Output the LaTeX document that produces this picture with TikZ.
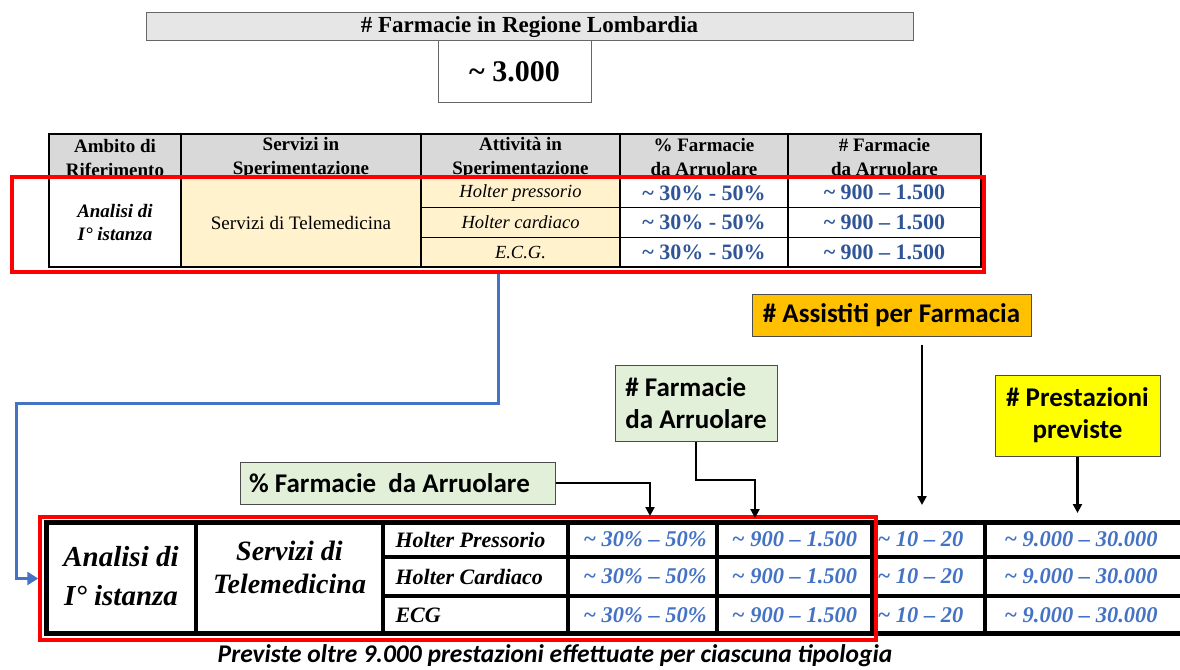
\documentclass[tikz,border=0pt]{standalone}
\usepackage{fontspec}
\setmainfont{Liberation Serif}
\newfontfamily\calibri{Carlito}
\usetikzlibrary{arrows.meta}

\definecolor{grigiotit}{HTML}{E7E6E6}
\definecolor{grigiotab}{HTML}{D9D9D9}
\definecolor{giallino}{HTML}{FFF2CC}
\definecolor{bluscuro}{HTML}{2F5597}
\definecolor{bluchiaro}{HTML}{4472C4}
\definecolor{arancio}{HTML}{FFC000}
\definecolor{verdino}{HTML}{E2F0D9}
\definecolor{giallo}{HTML}{FFFF00}
\definecolor{rosso}{HTML}{FF0000}

\tikzset{
  area/.style n args={4}{at={({(#1+#3)/2},{(#2+#4)/2})},
    minimum width={#3-#1}, minimum height={#4-#2}},
  cella/.style={draw=black, line width=1.2pt, inner sep=0pt, align=center},
  testata/.style={cella, fill=grigiotab, font=\bfseries\fontsize{19}{24}\selectfont},
  cifra/.style={cella, text=bluscuro, font=\bfseries\fontsize{22}{26}\selectfont},
  riquadro/.style={draw=rosso, line width=3.5pt, inner sep=0pt},
  etichetta/.style={draw=black!70, line width=1pt, inner sep=0pt, align=center,
    font=\calibri\bfseries\fontsize{27}{32}\selectfont},
  freccia/.style={line width=2.3pt, -{Triangle[length=9pt,width=9pt]}},
  valore/.style={text=bluchiaro, font=\bfseries\itshape\fontsize{22.5}{26}\selectfont},
  voce/.style={font=\bfseries\itshape\fontsize{22}{26}\selectfont},
}

\begin{document}
\begin{tikzpicture}[x=1pt, y=-1pt]
        \fill[white] (0,0) rectangle (1180,669);
        \useasboundingbox (0,0) rectangle (1180,669);

        % Paso 1: Titolo e numero totale di farmacie
        \node[draw=black!60, line width=1pt, fill=grigiotit, inner sep=0pt,
              area={146}{13}{913}{41}, font=\bfseries\fontsize{23}{26}\selectfont]
              (titolo) {\# Farmacie in Regione Lombardia};
        \node[draw=black!60, line width=1pt, fill=white, inner sep=0pt,
              area={438}{41}{591}{102}, font=\bfseries\fontsize{30}{34}\selectfont]
              (totale) {\textasciitilde{} 3.000};

        % Paso 2: Intestazione della tabella superiore
        \node[testata, area={49}{131}{181}{178}, yshift=-3pt] (int1) {Ambito di\\Riferimento};
        \node[testata, area={181}{131}{421}{178}, yshift=-3pt] (int2) {Servizi in\\Sperimentazione};
        \node[testata, area={421}{131}{620}{178}, yshift=-3pt] (int3) {Attività in\\Sperimentazione};
        \node[testata, area={620}{131}{788}{178}, yshift=-3pt] (int4) {\% Farmacie\\da Arruolare};
        \node[testata, area={788}{131}{981}{178}, yshift=-3pt] (int5) {\# Farmacie\\da Arruolare};

        % Paso 3: Righe della tabella superiore
        \node[cella, fill=white, area={49}{178}{181}{267},
              font=\bfseries\itshape\fontsize{19}{23}\selectfont] (ambito) {Analisi di\\I° istanza};
        \node[cella, fill=giallino, area={181}{178}{421}{267},
              font=\fontsize{19}{23}\selectfont] (servizi) {Servizi di Telemedicina};
        \foreach \att [count=\i, evaluate=\i as \ya using 178+29.67*(\i-1),
                       evaluate=\i as \yb using 178+29.67*\i]
                 in {Holter pressorio, Holter cardiaco, E.C.G.} {
          \node[cella, fill=giallino, area={421}{\ya}{620}{\yb},
                font=\itshape\fontsize{18.5}{22}\selectfont] (att\i) {\att};
          \node[cifra, fill=white, area={620}{\ya}{788}{\yb}] (perc\i) {\textasciitilde{} 30\% - 50\%};
          \node[cifra, fill=white, area={788}{\ya}{981}{\yb}] (num\i) {\textasciitilde{} 900 \textendash{} 1.500};
        }
        \node[riquadro, area={12}{177}{984}{272}] (rosso1) {};

        % Paso 4: Etichette dei parametri
        \node[etichetta, fill=arancio, area={752}{294}{1031}{336}] (assist) {\# Assistiti per Farmacia};
        \node[etichetta, fill=verdino, area={615}{365}{777}{441}, align=left] (farm) {\# Farmacie\\da Arruolare};
        \node[etichetta, fill=verdino, area={240}{462}{555}{504}] (perc) {\% Farmacie\ \ da Arruolare\hspace*{16pt}};
        \node[etichetta, fill=giallo, area={995}{375}{1160}{456}] (prest) {\# Prestazioni\\previste};

        % Paso 5: Tabella inferiore con bordi spessi
        \node[draw=black, line width=5pt, inner sep=0pt, area={46}{522.5}{1195}{633.5}] (tabB) {};
        \foreach \x in {196,383,568,717,872,985}
          \draw[line width=4pt] (\x,522.5) -- (\x,633.5);
        \foreach \y in {557,596}
          \draw[line width=4pt] (383,\y) -- (1195,\y);

        \node[align=center, font=\bfseries\itshape\fontsize{29}{39}\selectfont] (bAmbito) at (121,576) {Analisi di\\I° istanza};
        \node[align=center, font=\bfseries\itshape\fontsize{28}{33}\selectfont] (bServizi) at (289.5,567) {Servizi di\\Telemedicina};
        \foreach \att [count=\i] / \y in {Holter Pressorio/539.5, Holter Cardiaco/576.5, ECG/615} {
          \node[voce, anchor=west] (bAtt\i) at (392,\y) {\att};
          \node[valore] (bPerc\i) at (645,\y) {\textasciitilde{} 30\% \textendash{} 50\%};
          \node[valore] (bNum\i) at (794.5,\y) {\textasciitilde{} 900 \textendash{} 1.500};
          \node[valore, anchor=west] (bAss\i) at (874,\y) {\textasciitilde{} 10 \textendash{} 20};
          \node[valore] (bPre\i) at (1081,\y) {\textasciitilde{} 9.000 \textendash{} 30.000};
        }
        \node[riquadro, area={40}{517}{876}{640}] (rosso2) {};

        % Paso 6: Collegamenti
        \coordinate (giro) at (16,403);
        \draw[line width=3pt, bluchiaro, -{Triangle[length=11pt,width=13pt]}]
              (rosso1.south) |- (giro) |- (rosso2.west);

        \coordinate (puntaP) at (650,516);
        \draw[freccia] (perc.east) -| (puntaP);

        \coordinate (gomitoF) at (755,480);
        \coordinate (puntaF) at (755,518);
        \draw[freccia] (farm.south) |- (gomitoF) -- (puntaF);

        \coordinate (puntaA) at (922,505);
        \draw[freccia, shorten <=8pt] (assist.south -| puntaA) -- (puntaA);

        \coordinate (puntaPr) at (1079,513);
        \draw[freccia] (prest.south) -- (prest.south |- puntaPr);

        % Paso 7: Nota finale
        \node[anchor=base, font=\calibri\bfseries\itshape\fontsize{25.5}{30}\selectfont] (nota) at (555,662)
              {Previste oltre 9.000 prestazioni effettuate per ciascuna tipologia};
\end{tikzpicture}
\end{document}
